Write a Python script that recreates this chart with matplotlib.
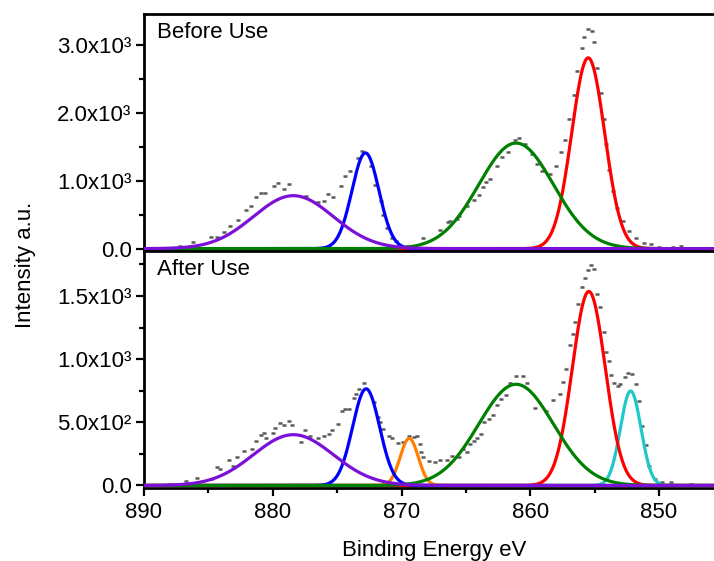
import numpy as np
import matplotlib
matplotlib.use("Agg")
import matplotlib.pyplot as plt
from matplotlib.ticker import FixedLocator, MultipleLocator

FS = 16
plt.rcParams['font.family'] = ['Liberation Sans', 'DejaVu Sans']
plt.rcParams['xtick.labelsize'] = FS
plt.rcParams['ytick.labelsize'] = FS
plt.rcParams['font.size'] = FS

# ---- measured spectra (binding energy eV, intensity) ----
before_energy = [889.5, 888.5, 887.2, 886.2, 884.8, 884.3, 883.8, 883.3, 882.7, 882.1,
                 881.7, 881.3, 880.9, 880.6, 879.9, 879.6, 879.1, 878.7, 877.4, 876.5,
                 876.0, 875.7, 875.3, 874.7, 874.4, 874.0, 873.4, 873.05, 872.4, 872.07,
                 871.6, 871.4, 871.1, 870.7, 870.4, 869.6, 868.3, 867.0, 866.4, 866.2,
                 865.7, 865.5, 864.9, 864.4, 864.0, 863.7, 863.4, 863.1, 862.6, 862.2,
                 861.7, 861.2, 860.9, 860.4, 859.9, 859.5, 859.05, 858.5, 858.0, 857.6,
                 857.3, 857.0, 856.6, 856.35, 856.0, 855.8, 855.5, 855.2, 855.05, 854.8,
                 854.5, 854.3, 854.1, 853.9, 853.6, 853.3, 852.8, 852.3, 851.75, 851.2,
                 850.6, 850.0, 848.9, 848.3, 846.5]
before_counts = [8, 15, 44, 95, 166, 172, 240, 338, 416, 574,
                 622, 760, 819, 819, 916, 966, 878, 951, 779, 681,
                 706, 804, 760, 916, 1063, 1147, 1334, 1431, 1210, 941,
                 696, 500, 304, 157, 107, 44, 150, 279, 387, 401,
                 440, 475, 622, 720, 794, 901, 975, 1029, 1220, 1348,
                 1422, 1593, 1627, 1539, 1392, 1245, 1137, 1103, 1220, 1417,
                 1593, 1912, 2265, 2618, 2951, 3113, 3230, 3211, 3039, 2657,
                 2289, 1912, 1544, 1162, 843, 598, 401, 255, 157, 83,
                 69, 25, 20, 34, 10]

after_energy = [889.5, 888.0, 886.7, 885.9, 884.8, 884.3, 884.1, 883.4, 883.1, 882.8,
                882.2, 881.6, 881.3, 880.95, 880.7, 880.5, 880.0, 879.8, 879.4, 879.1,
                878.75, 878.5, 877.8, 877.5, 877.1, 876.5, 876.0, 875.6, 875.4, 874.9,
                874.6, 874.4, 874.1, 873.7, 873.5, 873.3, 872.9, 872.1, 871.8, 871.65,
                871.4, 870.95, 870.7, 870.25, 869.9, 869.4, 869.05, 868.8, 868.55, 868.45,
                868.3, 867.9, 867.4, 867.0, 866.5, 866.1, 865.5, 865.2, 864.9, 864.7,
                864.4, 864.1, 863.8, 863.6, 863.2, 862.9, 862.6, 862.3, 861.9, 861.55,
                861.1, 860.6, 860.25, 859.65, 858.75, 858.2, 857.7, 857.45, 857.2, 856.9,
                856.7, 856.55, 856.3, 856.0, 855.75, 855.55, 855.25, 855.05, 854.8, 854.6,
                854.3, 854.1, 853.9, 853.7, 853.5, 853.2, 853.0, 852.65, 852.4, 852.1,
                851.75, 851.55, 851.3, 851.0, 850.8, 850.3, 849.8, 849.1, 847.5]
after_counts = [5, 12, 35, 58, 53, 145, 131, 202, 153, 223,
                276, 289, 354, 402, 415, 373, 415, 452, 491, 478,
                507, 478, 346, 441, 389, 373, 389, 407, 439, 486,
                586, 604, 604, 696, 722, 761, 809, 657, 539, 499,
                446, 394, 376, 334, 342, 389, 381, 394, 328, 263,
                224, 197, 189, 202, 205, 231, 228, 289, 263, 328,
                354, 373, 407, 504, 525, 557, 638, 683, 714, 814,
                866, 866, 809, 617, 591, 675, 722, 822, 919, 1108,
                1200, 1291, 1439, 1570, 1641, 1706, 1746, 1714, 1517, 1413,
                1216, 1058, 984, 874, 814, 787, 801, 861, 887, 885,
                806, 669, 472, 323, 157, 53, 27, 27, 8]

# ---- Gaussian fit components: centre (eV), height, sigma (eV) ----
before_centres = [855.5, 872.8, 861.1, 878.4]
before_heights = [2810, 1410, 1555, 780]
before_sigmas = [1.28, 1.05, 2.9, 3.1]
before_colors = ['#ff0000', '#0000ff', '#008000', '#7b10d8']

after_centres = [852.2, 855.45, 869.4, 872.75, 861.1, 878.4]
after_heights = [748, 1536, 373, 765, 801, 402]
after_sigmas = [0.8, 1.28, 0.7, 1.05, 2.9, 3.1]
after_colors = ['#1ec8c8', '#ff0000', '#ff8000', '#0000ff', '#008000', '#7b10d8']

before_ticks = [0, 1000, 2000, 3000]
before_ticklabels = ['0.0', '1.0x10³', '2.0x10³', '3.0x10³']
after_ticks = [0, 500, 1000, 1500]
after_ticklabels = ['0.0', '5.0x10²', '1.0x10³', '1.5x10³']
x_ticks = [890, 880, 870, 860, 850]
x_ticklabels = ['890', '880', '870', '860', '850']

W, H = 714, 561
fig = plt.figure(figsize=(W / 100, H / 100), dpi=100)

x_left, x_right = 890, 845
ax_l = 144 / W
ax_w = (45 * 12.875) / W
ax_top = fig.add_axes([ax_l, 1 - 251 / H, ax_w, (251 - 14) / H])
ax_bot = fig.add_axes([ax_l, 1 - 488 / H, ax_w, (488 - 251) / H])

energy_grid = np.linspace(x_left, x_right, 900)


def gaussian(x, c, h, s):
    return h * np.exp(-0.5 * ((x - c) / s) ** 2)


def draw_panel(ax, energy, counts, centres, heights, sigmas, colors, ylim,
               ticks, ticklabels, minor, title):
    ax.plot(energy, counts, linestyle='none', marker='_', markersize=3.2,
            markeredgewidth=1.8, color='#5a5a5a', zorder=2)
    for c, h, s, col in zip(centres, heights, sigmas, colors):
        ax.plot(energy_grid, gaussian(energy_grid, c, h, s), color=col,
                lw=2.3, zorder=3, solid_capstyle='butt')
    ax.set_xlim(x_left, x_right)
    ax.set_ylim(*ylim)
    ax.yaxis.set_major_locator(FixedLocator(ticks))
    ax.set_yticklabels(ticklabels)
    ax.yaxis.set_minor_locator(MultipleLocator(minor))
    for sp in ax.spines.values():
        sp.set_linewidth(2.0)
    ax.tick_params(axis='y', which='major', direction='out', length=6, width=1.6,
                   pad=3)
    ax.tick_params(axis='y', which='minor', direction='out', length=3.5, width=1.6)
    ax.text(0.022, 0.965, title, transform=ax.transAxes, ha='left', va='top',
            fontsize=FS)


draw_panel(ax_top, before_energy, before_counts, before_centres, before_heights,
           before_sigmas, before_colors, (-35, 3456), before_ticks,
           before_ticklabels, 500, 'Before Use')
draw_panel(ax_bot, after_energy, after_counts, after_centres, after_heights,
           after_sigmas, after_colors, (-20, 1856), after_ticks,
           after_ticklabels, 250, 'After Use')

ax_top.tick_params(axis='x', which='both', bottom=False, labelbottom=False)
ax_bot.xaxis.set_major_locator(FixedLocator(x_ticks))
ax_bot.set_xticklabels(x_ticklabels)
ax_bot.xaxis.set_minor_locator(MultipleLocator(5))
ax_bot.tick_params(axis='x', which='major', direction='out', length=6, width=1.6,
                   pad=4)
ax_bot.tick_params(axis='x', which='minor', direction='out', length=3.5, width=1.6)
ax_bot.set_xlabel('Binding Energy eV', fontsize=FS, labelpad=12)

for ax in (ax_top, ax_bot):
    for lab in ax.get_yticklabels() + ax.get_xticklabels():
        lab.set_fontsize(FS)

fig.text(25 / W, 1 - 265 / H, 'Intensity a.u.', rotation=90, ha='center',
         va='center', fontsize=FS)

fig.savefig('out.png', dpi=100)
